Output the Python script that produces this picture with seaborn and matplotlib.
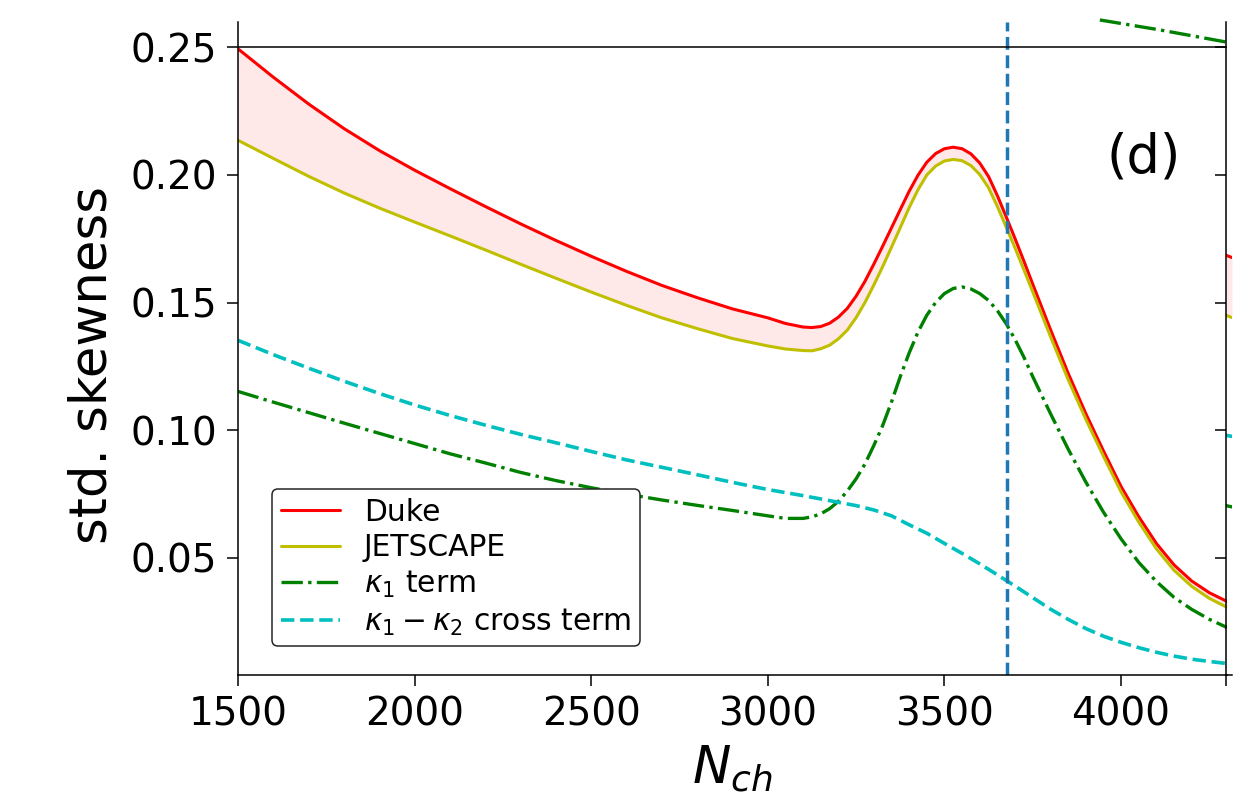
import matplotlib
matplotlib.use("Agg")
import matplotlib.pyplot as plt
import pandas as pd
import seaborn as sns

# ---------------- data ----------------
n_ch = [1500, 1600, 1700, 1800, 1900, 2000, 2100, 2200, 2300, 2400, 2500, 2600, 2700,
        2800, 2900, 3000, 3050, 3100, 3125, 3150, 3175, 3200, 3225, 3250, 3275, 3300,
        3325, 3350, 3375, 3400, 3425, 3450, 3475, 3500, 3525, 3550, 3575, 3600, 3625,
        3650, 3675, 3700, 3725, 3750, 3800, 3850, 3900, 3950, 4000, 4050, 4100, 4150,
        4200, 4250, 4300]
duke = [0.2493, 0.2382, 0.2277, 0.2181, 0.2095, 0.2018, 0.1946, 0.1876, 0.1808, 0.1743,
        0.1681, 0.1622, 0.1567, 0.1519, 0.1475, 0.1440, 0.1418, 0.1404, 0.1402, 0.1406,
        0.1419, 0.1443, 0.1477, 0.1525, 0.1583, 0.1650, 0.1720, 0.1792, 0.1864, 0.1935,
        0.1998, 0.2049, 0.2083, 0.2102, 0.2108, 0.2102, 0.2082, 0.2046, 0.1993, 0.1918,
        0.1835, 0.1750, 0.1662, 0.1572, 0.1395, 0.1224, 0.1066, 0.0920, 0.0780, 0.0662,
        0.0557, 0.0473, 0.0410, 0.0364, 0.0330]
jetscape = [0.2135, 0.2064, 0.1994, 0.1929, 0.1870, 0.1815, 0.1761, 0.1706, 0.1650, 0.1595,
            0.1541, 0.1489, 0.1440, 0.1398, 0.1359, 0.1330, 0.1318, 0.1312, 0.1311, 0.1319,
            0.1333, 0.1358, 0.1392, 0.1441, 0.1500, 0.1568, 0.1640, 0.1716, 0.1793, 0.1871,
            0.1941, 0.1999, 0.2034, 0.2054, 0.2060, 0.2055, 0.2036, 0.2001, 0.1949, 0.1876,
            0.1795, 0.1713, 0.1628, 0.1542, 0.1368, 0.1199, 0.1044, 0.0899, 0.0759, 0.0641,
            0.0536, 0.0452, 0.0389, 0.0342, 0.0307]
kappa1_term = [0.1152, 0.1110, 0.1069, 0.1028, 0.0988, 0.0948, 0.0908, 0.0872, 0.0835, 0.0803,
               0.0775, 0.0750, 0.0727, 0.0706, 0.0686, 0.0665, 0.0655, 0.0655, 0.0661, 0.0673,
               0.0693, 0.0722, 0.0762, 0.0810, 0.0868, 0.0940, 0.1018, 0.1110, 0.1210, 0.1302,
               0.1384, 0.1450, 0.1500, 0.1535, 0.1555, 0.1561, 0.1553, 0.1535, 0.1508, 0.1468,
               0.1417, 0.1355, 0.1286, 0.1210, 0.1066, 0.0927, 0.0798, 0.0680, 0.0575, 0.0483,
               0.0408, 0.0346, 0.0299, 0.0260, 0.0228]
n_ch_cross = [1500, 1600, 1700, 1800, 1900, 2000, 2100, 2200, 2300, 2400, 2500, 2600, 2700,
              2800, 2900, 3000, 3100, 3200, 3250, 3300, 3350, 3400, 3450, 3500, 3550, 3600,
              3650, 3700, 3750, 3800, 3850, 3900, 3950, 4000, 4050, 4100, 4150, 4200, 4250,
              4300]
cross_term = [0.1352, 0.1296, 0.1243, 0.1192, 0.1144, 0.1099, 0.1058, 0.1020, 0.0984, 0.0951,
              0.0917, 0.0884, 0.0855, 0.0826, 0.0796, 0.0768, 0.0744, 0.0718, 0.0705, 0.0688,
              0.0665, 0.0630, 0.0597, 0.0557, 0.0518, 0.0477, 0.0434, 0.0390, 0.0345, 0.0300,
              0.0260, 0.0224, 0.0194, 0.0170, 0.0149, 0.0131, 0.0116, 0.0104, 0.0095, 0.0087]
n_ch_marker = 3676
ref_level = 0.25
y_ticks = [0.05, 0.10, 0.15, 0.20, 0.25]
x_ticks = [1500, 2000, 2500, 3000, 3500, 4000]
panel_label = "(d)"
legend_labels = ["Duke", "JETSCAPE", r"$\kappa_1$ term", r"$\kappa_1-\kappa_2$ cross term"]

# fragments of neighbouring panels visible at the picture's edges
next_x = [0.0, 1.0]
next_duke = [0.1685, 0.1676]
next_jetscape = [0.1450, 0.1441]
next_cross = [0.0980, 0.0976]
next_kappa1 = [0.0705, 0.0700]
upper_x = [3940, 4110, 4300]
upper_kappa1 = [0.2606, 0.2567, 0.2519]

# ---------------- style ----------------
sns.set_style("ticks")
plt.rcParams["font.family"] = ["DejaVu Sans"]
plt.rcParams["mathtext.fontset"] = "dejavusans"
for key in ["axes.edgecolor", "text.color", "axes.labelcolor", "xtick.color", "ytick.color"]:
    plt.rcParams[key] = "black"
plt.rcParams["axes.linewidth"] = 1.1

W, H = 1257, 808
fig = plt.figure(figsize=(W / 100, H / 100), dpi=100)
ax_l, ax_r, ax_t, ax_b = 238, 1227, 22, 675
ax = fig.add_axes([ax_l / W, 1 - ax_b / H, (ax_r - ax_l) / W, (ax_b - ax_t) / H])

df = pd.DataFrame({"N_ch": n_ch, "Duke": duke, "JETSCAPE": jetscape, "kappa1": kappa1_term})
df_cross = pd.DataFrame({"N_ch": n_ch_cross, "cross": cross_term})

ax.fill_between(df["N_ch"], df["JETSCAPE"], df["Duke"], color="red", alpha=0.09, lw=0)
sns.lineplot(data=df, x="N_ch", y="Duke", color="red", lw=2.2, label=legend_labels[0], ax=ax)
sns.lineplot(data=df, x="N_ch", y="JETSCAPE", color="#bfbf00", lw=2.2, label=legend_labels[1], ax=ax)
sns.lineplot(data=df, x="N_ch", y="kappa1", color="green", lw=2.4, linestyle="-.",
             label=legend_labels[2], ax=ax)
sns.lineplot(data=df_cross, x="N_ch", y="cross", color="#00bfbf", lw=2.6, linestyle="--",
             label=legend_labels[3], ax=ax)
sns.lineplot(x=upper_x, y=upper_kappa1, color="green", lw=2.4, linestyle="-.",
             clip_on=False, ax=ax)
ax.axvline(n_ch_marker, color="#1f77b4", lw=2.5, linestyle="--")
ax.axhline(ref_level, color="black", lw=1.1)

ax.set_xlim(1500, 4300)
ax.set_ylim(0.0042, 0.2598)
ax.set_xticks(x_ticks)
ax.set_yticks(y_ticks)
ax.set_yticklabels([f"{v:.2f}" for v in y_ticks])
ax.tick_params(axis="both", labelsize=28, length=8, width=1.1, direction="out")
ax.tick_params(axis="y", pad=7)
ax.tick_params(axis="x", pad=7)
sns.despine(ax=ax, top=True, right=True)

ax.set_xlabel(r"$N_{ch}$", fontsize=37)
ax.set_ylabel("std. skewness", fontsize=37)
ax.xaxis.set_label_coords(0.5, -0.105)
ax.yaxis.set_label_coords(-0.122, 0.475)

ax.text(0.916, 0.793, panel_label, transform=ax.transAxes, fontsize=38,
        ha="center", va="center")

leg = ax.legend(loc="lower left", bbox_to_anchor=(0.019, 0.021), fontsize=21.4,
                frameon=True, fancybox=True, framealpha=1, edgecolor="0.15",
                labelspacing=0.22, borderpad=0.3, handlelength=2.0, handletextpad=0.8)
leg.get_frame().set_linewidth(1.1)

# neighbouring panel sliver at the right edge
ax2 = fig.add_axes([1226 / W, 1 - ax_b / H, 6 / W, (ax_b - ax_t) / H])
ax2.patch.set_alpha(0)
ax2.fill_between(next_x, next_jetscape, next_duke, color="red", alpha=0.09, lw=0)
sns.lineplot(x=next_x, y=next_duke, color="red", lw=2.2, ax=ax2)
sns.lineplot(x=next_x, y=next_jetscape, color="#bfbf00", lw=2.2, ax=ax2)
sns.lineplot(x=next_x, y=next_cross, color="#00bfbf", lw=2.6, ax=ax2)
sns.lineplot(x=next_x, y=next_kappa1, color="green", lw=2.4, ax=ax2)
ax2.set_xlim(0, 1)
ax2.set_ylim(0.0042, 0.2598)
ax2.set_yticks(y_ticks)
ax2.set_yticklabels([])
ax2.set_xticks([0])
ax2.set_xticklabels([])
ax2.tick_params(axis="both", length=8, width=1.1, direction="out")
sns.despine(ax=ax2, top=True, right=True)

fig.savefig("out.png", dpi=100)
